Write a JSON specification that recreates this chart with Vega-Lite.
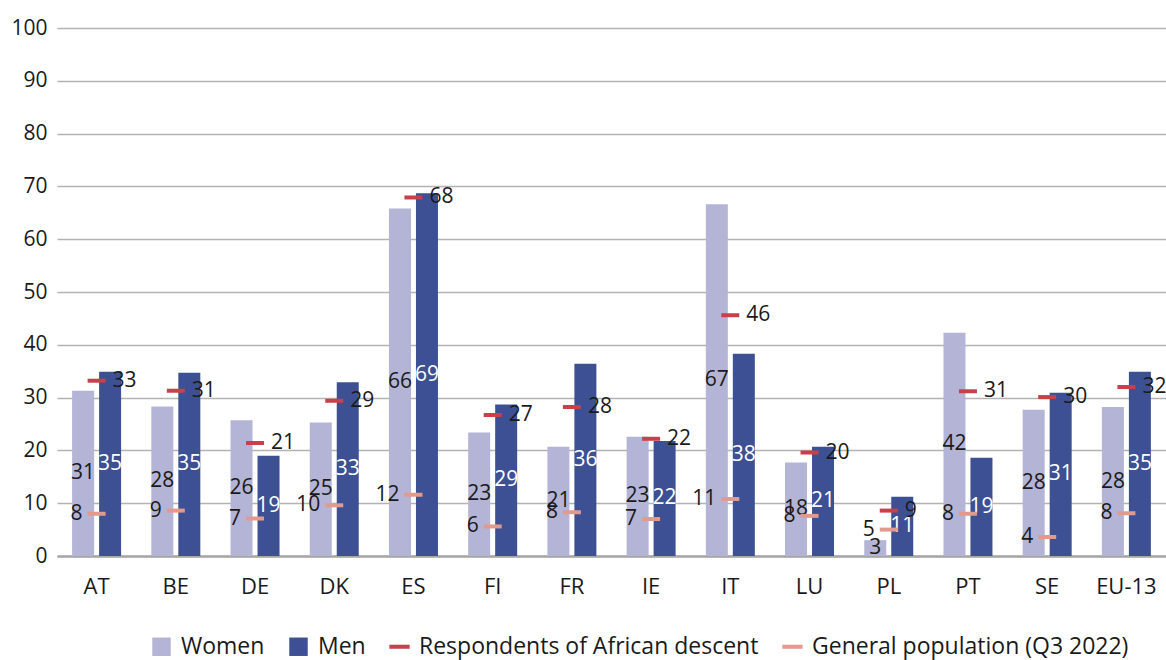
{
  "$schema": "https://vega.github.io/schema/vega-lite/v6.json",
  "autosize": {"type": "none"},
  "width": 1109,
  "height": 528,
  "padding": {"left": 57, "top": 28, "right": 0, "bottom": 104},
  "background": "white",
  "config": {
    "font": "Open Sans",
    "view": {"stroke": null},
    "axis": {"labelFont": "Open Sans", "labelColor": "#1a1a1a"}
  },
  "datasets": {
    "bars": [
      {"country": "AT", "series": "Women", "value": 31.3},
      {"country": "AT", "series": "Men", "value": 34.9},
      {"country": "BE", "series": "Women", "value": 28.3},
      {"country": "BE", "series": "Men", "value": 34.7},
      {"country": "DE", "series": "Women", "value": 25.7},
      {"country": "DE", "series": "Men", "value": 19.0},
      {"country": "DK", "series": "Women", "value": 25.3},
      {"country": "DK", "series": "Men", "value": 32.9},
      {"country": "ES", "series": "Women", "value": 65.8},
      {"country": "ES", "series": "Men", "value": 68.7},
      {"country": "FI", "series": "Women", "value": 23.4},
      {"country": "FI", "series": "Men", "value": 28.7},
      {"country": "FR", "series": "Women", "value": 20.7},
      {"country": "FR", "series": "Men", "value": 36.4},
      {"country": "IE", "series": "Women", "value": 22.6},
      {"country": "IE", "series": "Men", "value": 21.8},
      {"country": "IT", "series": "Women", "value": 66.6},
      {"country": "IT", "series": "Men", "value": 38.3},
      {"country": "LU", "series": "Women", "value": 17.7},
      {"country": "LU", "series": "Men", "value": 20.7},
      {"country": "PL", "series": "Women", "value": 3.0},
      {"country": "PL", "series": "Men", "value": 11.2},
      {"country": "PT", "series": "Women", "value": 42.3},
      {"country": "PT", "series": "Men", "value": 18.6},
      {"country": "SE", "series": "Women", "value": 27.7},
      {"country": "SE", "series": "Men", "value": 30.9},
      {"country": "EU-13", "series": "Women", "value": 28.2},
      {"country": "EU-13", "series": "Men", "value": 34.9}
    ],
    "ticks": [
      {"country": "AT", "series": "Respondents of African descent", "value": 33.2},
      {"country": "AT", "series": "General population (Q3 2022)", "value": 8.0},
      {"country": "BE", "series": "Respondents of African descent", "value": 31.3},
      {"country": "BE", "series": "General population (Q3 2022)", "value": 8.6},
      {"country": "DE", "series": "Respondents of African descent", "value": 21.4},
      {"country": "DE", "series": "General population (Q3 2022)", "value": 7.1},
      {"country": "DK", "series": "Respondents of African descent", "value": 29.4},
      {"country": "DK", "series": "General population (Q3 2022)", "value": 9.6},
      {"country": "ES", "series": "Respondents of African descent", "value": 67.9},
      {"country": "ES", "series": "General population (Q3 2022)", "value": 11.6},
      {"country": "FI", "series": "Respondents of African descent", "value": 26.7},
      {"country": "FI", "series": "General population (Q3 2022)", "value": 5.6},
      {"country": "FR", "series": "Respondents of African descent", "value": 28.2},
      {"country": "FR", "series": "General population (Q3 2022)", "value": 8.3},
      {"country": "IE", "series": "Respondents of African descent", "value": 22.2},
      {"country": "IE", "series": "General population (Q3 2022)", "value": 7.0},
      {"country": "IT", "series": "Respondents of African descent", "value": 45.6},
      {"country": "IT", "series": "General population (Q3 2022)", "value": 10.8},
      {"country": "LU", "series": "Respondents of African descent", "value": 19.6},
      {"country": "LU", "series": "General population (Q3 2022)", "value": 7.6},
      {"country": "PL", "series": "Respondents of African descent", "value": 8.6},
      {"country": "PL", "series": "General population (Q3 2022)", "value": 5.0},
      {"country": "PT", "series": "Respondents of African descent", "value": 31.2},
      {"country": "PT", "series": "General population (Q3 2022)", "value": 8.0},
      {"country": "SE", "series": "Respondents of African descent", "value": 30.1},
      {"country": "SE", "series": "General population (Q3 2022)", "value": 3.6},
      {"country": "EU-13", "series": "Respondents of African descent", "value": 32.0},
      {"country": "EU-13", "series": "General population (Q3 2022)", "value": 8.1}
    ]
  },
  "encoding": {
    "x": {
      "field": "country", "type": "nominal",
      "sort": ["AT","BE","DE","DK","ES","FI","FR","IE","IT","LU","PL","PT","SE","EU-13"],
      "scale": {"paddingInner": 0, "paddingOuter": 0},
      "axis": {"title": null, "labelAngle": 0, "labelFontSize": 22, "labelPadding": 20, "ticks": false, "domainColor": "#a6a6a6", "domainWidth": 2.5, "grid": false}
    }
  },
  "layer": [
    {
      "data": {"name": "bars"},
      "mark": {"type": "bar"},
      "encoding": {
        "xOffset": {"field": "series", "type": "nominal", "sort": ["Women", "Men"], "scale": {"domain": ["Women", "Men"], "paddingInner": 0.185, "paddingOuter": 0.56}},
        "y": {
          "field": "value", "type": "quantitative",
          "scale": {"domain": [0, 100], "nice": false},
          "axis": {"title": null, "values": [0,10,20,30,40,50,60,70,80,90,100], "labelFontSize": 21, "labelPadding": 10, "ticks": false, "domain": false, "gridColor": "#b3b3b3", "gridWidth": 1.5}
        },
        "color": {
          "field": "series", "type": "nominal",
          "scale": {
            "domain": ["Women", "Men", "Respondents of African descent", "General population (Q3 2022)"],
            "range": ["#b3b4d6", "#3d5093", "#c9404a", "#e39a8e"]
          },
          "legend": {
            "title": null,
            "orient": "none",
            "direction": "horizontal",
            "legendX": 93,
            "legendY": 607,
            "labelFontSize": 23,
            "labelLimit": 0,
            "labelColor": "#1a1a1a",
            "labelFont": "Open Sans",
            "symbolSize": 340,
            "labelOffset": 8,
            "columnPadding": 22,
            "symbolType": "square",
            "encode": {
              "symbols": {
                "update": {
                  "shape": {"signal": "datum.value == 'Women' || datum.value == 'Men' ? 'square' : 'M-1.1,-0.22H1.1V0.22H-1.1Z'"},
                  "fill": {"scale": "color", "field": "value"},
                  "strokeWidth": {"value": 0},
                  "opacity": {"value": 1}
                }
              }
            }
          }
        }
      }
    },
    {
      "data": {"name": "bars"},
      "transform": [{"filter": "datum.series == 'Women'"}, {"calculate": "datum.value / 2", "as": "mid"}],
      "mark": {"type": "text", "fontSize": 21, "color": "#1a1a1a", "baseline": "middle"},
      "encoding": {
        "xOffset": {"field": "series", "type": "nominal", "sort": ["Women", "Men"]},
        "y": {"field": "mid", "type": "quantitative"},
        "text": {"field": "value", "type": "quantitative", "format": ".0f"}
      }
    },
    {
      "data": {"name": "bars"},
      "transform": [{"filter": "datum.series == 'Men'"}, {"calculate": "datum.value / 2", "as": "mid"}],
      "mark": {"type": "text", "fontSize": 21, "color": "#ffffff", "baseline": "middle"},
      "encoding": {
        "xOffset": {"field": "series", "type": "nominal", "sort": ["Women", "Men"]},
        "y": {"field": "mid", "type": "quantitative"},
        "text": {"field": "value", "type": "quantitative", "format": ".0f"}
      }
    },
    {
      "data": {"name": "ticks"},
      "mark": {"type": "tick", "orient": "horizontal", "size": 18, "thickness": 4, "opacity": 1},
      "encoding": {
        "y": {"field": "value", "type": "quantitative"},
        "color": {"field": "series", "type": "nominal"}
      }
    },
    {
      "data": {"name": "ticks"},
      "transform": [{"filter": "datum.series == 'Respondents of African descent'"}],
      "mark": {"type": "text", "fontSize": 21, "color": "#1a1a1a", "align": "left", "baseline": "middle", "dx": 16},
      "encoding": {
        "y": {"field": "value", "type": "quantitative"},
        "text": {"field": "value", "type": "quantitative", "format": ".0f"}
      }
    },
    {
      "data": {"name": "ticks"},
      "transform": [{"filter": "datum.series == 'General population (Q3 2022)'"}],
      "mark": {"type": "text", "fontSize": 21, "color": "#1a1a1a", "align": "right", "baseline": "middle", "dx": -14},
      "encoding": {
        "y": {"field": "value", "type": "quantitative"},
        "text": {"field": "value", "type": "quantitative", "format": ".0f"}
      }
    }
  ]
}
